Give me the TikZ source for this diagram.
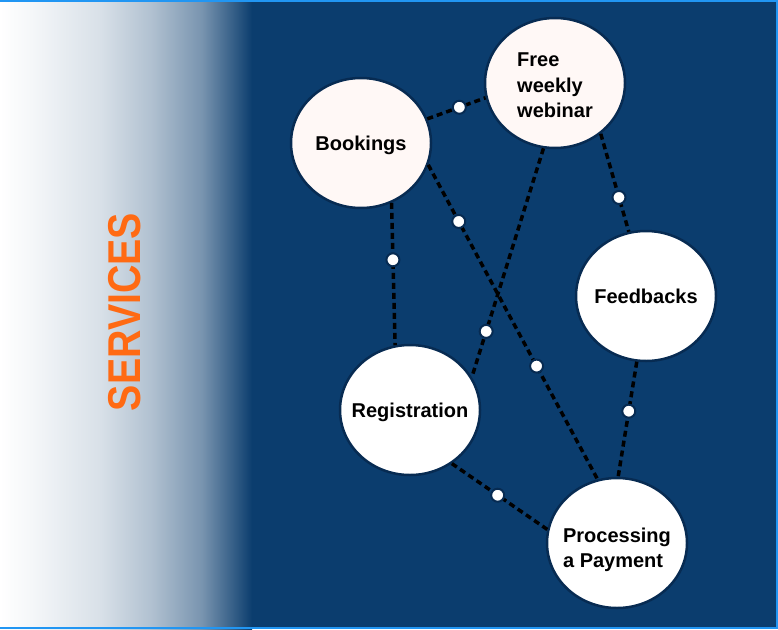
\documentclass[tikz,border=0pt]{standalone}
\usepackage{fontspec}
\setmainfont{Liberation Sans}
\usetikzlibrary{shapes.geometric}

\definecolor{navy}{HTML}{0B3D6E}
\definecolor{navyrim}{HTML}{072B52}
\definecolor{frameblue}{HTML}{2196F3}
\definecolor{svcorange}{HTML}{FF6A13}
\definecolor{blush}{HTML}{FFF8F6}

\pgfdeclarehorizontalshading{fade}{100bp}{
  color(0bp)=(white); color(25bp)=(white); color(31bp)=(white!96!navy);
  color(45bp)=(white!84!navy); color(55bp)=(white!68!navy); color(65bp)=(white!45!navy);
  color(72bp)=(white!14!navy); color(75bp)=(navy); color(100bp)=(navy)}

\newcommand{\spottext}[2][2pt]{\raisebox{-#1}[\height][\depth]{\makebox[0pt]{\begin{tabular}{@{}l@{}}#2\end{tabular}}}}

\begin{document}
\begin{tikzpicture}[
    x=1pt, y=-1pt,
    spot/.style={ellipse, draw=navyrim, line width=2.5pt, fill=white, inner sep=0pt,
      minimum width=140pt, minimum height=130pt,
      font=\fontsize{20}{25.5}\selectfont\bfseries},
    link/.style={line width=3.5pt, dash pattern=on 6pt off 4pt, black},
    knot/.style={circle, solid, fill=white, draw=navyrim, line width=2pt,
      inner sep=0pt, minimum size=13pt}
]

% background
\useasboundingbox (0,0) rectangle (778,629);
\fill[navy] (0,0) rectangle (778,629);
\shade[shading=fade] (0,0) rectangle (252,629);
\draw[frameblue, line width=2pt] (0,1) -- (777,1) -- (777,628) -- (0,628);

% title
\node[rotate=90, text=svcorange, font=\fontsize{46}{46}\selectfont\bfseries] (title) at (125,312)
  {\scalebox{0.855}[1]{SERVICES}};

% services
\node[spot, fill=blush] (bookings) at (361,143) {\spottext{Bookings}};
\node[spot, fill=blush] (webinar) at (555,83) {\spottext[4pt]{Free\\weekly\\webinar}};
\node[spot] (feedbacks) at (646,296) {\spottext{Feedbacks}};
\node[spot] (registration) at (410,410) {\spottext{Registration}};
\node[spot] (payment) at (617,543) {\spottext[7pt]{Processing\\a Payment}};

% links
\draw[link] (bookings.20) -- (webinar.192) node[knot, pos=0.55] (k1) {};
\draw[link] (bookings.297) -- (registration.103) node[knot, pos=0.4] (k2) {};
\draw[link] (bookings.342) -- (payment.107)
  node[knot, pos=0.18] (k3) {} node[knot, pos=0.64] (k4) {};
\draw[link] (webinar.312) -- (feedbacks.105) node[knot, pos=0.65] (k5) {};
\draw[link] (webinar.260) -- (registration.28) node[knot, pos=0.8] (k6) {};
\draw[link] (feedbacks.262) -- (payment.89) node[knot, pos=0.43] (k7) {};
\draw[link] (registration.308) -- (payment.169) node[knot, pos=0.48] (k8) {};

\end{tikzpicture}
\end{document}
